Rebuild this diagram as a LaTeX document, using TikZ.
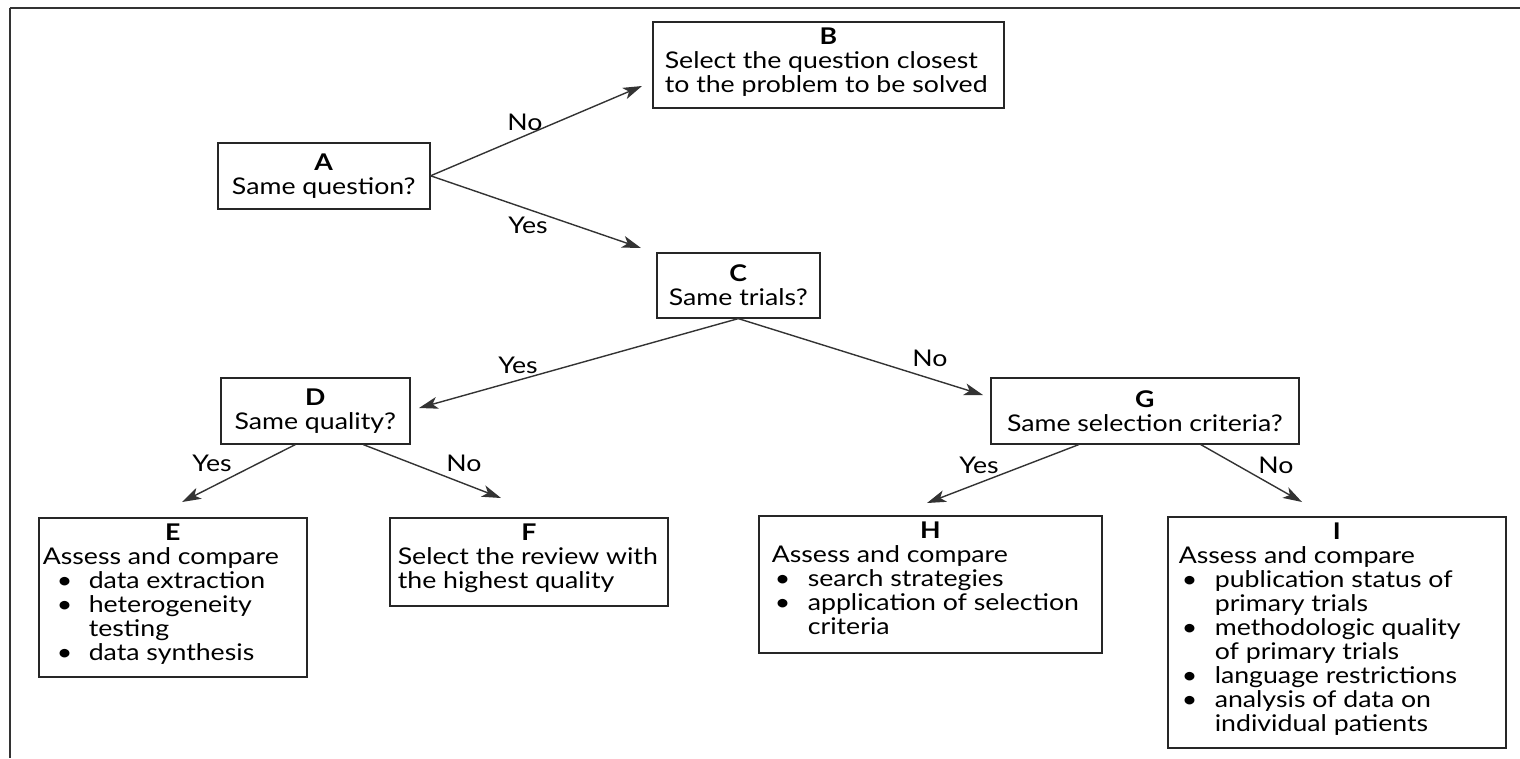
\documentclass[tikz,border=0pt]{standalone}
\usepackage{fontspec}
\setmainfont{Lato}[FakeStretch=1.16]
\usetikzlibrary{arrows.meta}

\tikzset{
  box/.style={draw=black!85, line width=1.6pt, anchor=north west, inner sep=0pt},
  qbox/.style={box, align=center},
  arr/.style={draw=black!80, line width=1.4pt, -{Stealth[length=19pt,width=12pt,inset=5pt]}},
  lab/.style={inner sep=1pt},
  frame/.style={draw=black!80, line width=2pt}
}
\newlength\bulx \setlength\bulx{3pt}
\newlength\txtx \setlength\txtx{36pt}
\newcommand{\bitem}[1]{\par\hangindent=\txtx\hangafter=1\noindent\hbox to \txtx{\hspace{\bulx}\textbullet\hfil}#1\par}
\newcommand{\panel}[5]{\begin{minipage}[t][#2][t]{#1}\vspace*{6pt}{\centering\bfseries #3\par}\raggedright\leftskip=#4\relax #5\end{minipage}}

\begin{document}
\fontsize{23}{24}\selectfont
\begin{tikzpicture}[x=1pt, y=-1pt]
\useasboundingbox (0,0) rectangle (1520,758);
\draw[frame] (9.5,7.5) -- (1520,7.5);
\draw[frame] (9.5,7.5) -- (9.5,758);

% questions
\node[qbox, minimum width=212pt, minimum height=66pt] (a) at (217,142) {\textbf{A}\\Same question?};
\node[qbox, minimum width=163pt, minimum height=65pt] (c) at (656,252) {\textbf{C}\\Same trials?};
\node[qbox, minimum width=189pt, minimum height=66pt] (d) at (220,377) {\textbf{D}\\Same quality?};
\node[qbox, minimum width=308pt, minimum height=66pt] (g) at (990,377) {\textbf{G}\\Same selection criteria?};

% outcomes
\node[box] (b) at (652,21) {\panel{351pt}{86pt}{B}{12pt}{Select the question closest\\to the problem to be solved}};
\node[box] (e) at (38,517) {\panel{268pt}{159pt}{E}{4pt}{\setlength\bulx{14pt}\setlength\txtx{46pt}Assess and compare\par
  \bitem{data extraction}\bitem{heterogeneity\newline testing}\bitem{data synthesis}}};
\node[box] (f) at (389,517) {\panel{278pt}{88pt}{F}{8pt}{Select the review with\\the highest quality}};
\node[box] (h) at (758,515) {\panel{343pt}{137pt}{H}{13pt}{Assess and compare\par
  \bitem{search strategies}\bitem{application of selection\newline criteria}}};
\node[box] (i) at (1167,516) {\panel{338pt}{231pt}{I}{11pt}{Assess and compare\par
  \bitem{publication status of\newline primary trials}\bitem{methodologic quality\newline of primary trials}
  \bitem{language restrictions}\bitem{analysis of data on\newline individual patients}}};

% arrow tips
\coordinate (tb) at (642,86);
\coordinate (tc) at (641,248);
\coordinate (td) at (419,408);
\coordinate (tg) at (983,395);
\coordinate (te) at (182,502);
\coordinate (tf) at (501,498);
\coordinate (th) at (927,503);
\coordinate (ti) at (1302,502);

\draw[arr] (a.east) -- (tb);
\draw[arr] (a.east) -- (tc);
\draw[arr] (c.south) -- (td);
\draw[arr] (c.south) -- (tg);
\draw[arr] ([xshift=-20pt]d.south) -- (te);
\draw[arr] ([xshift=48pt]d.south) -- (tf);
\draw[arr] ([xshift=-66pt]g.south) -- (th);
\draw[arr] ([xshift=56pt]g.south) -- (ti);

% labels
\node[lab] (lab1) at (525,122) {No};
\node[lab] (lab2) at (528,225) {Yes};
\node[lab] (lab3) at (518,365) {Yes};
\node[lab] (lab4) at (930,358) {No};
\node[lab] (lab5) at (212,463) {Yes};
\node[lab] (lab6) at (464,463) {No};
\node[lab] (lab7) at (979,465) {Yes};
\node[lab] (lab8) at (1276,465) {No};
\end{tikzpicture}
\end{document}
